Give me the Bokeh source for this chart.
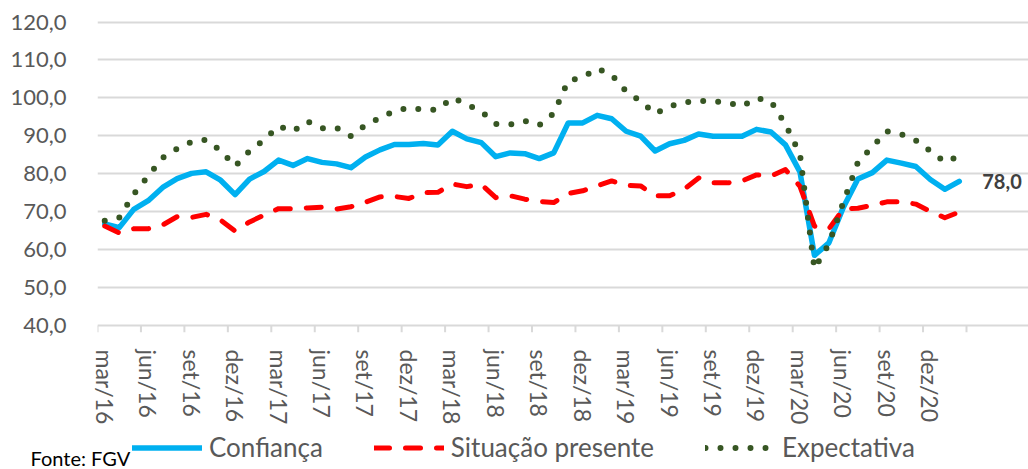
from bokeh.plotting import figure
from bokeh.layouts import column
from bokeh.models import Range1d, FixedTicker, Legend, LegendItem, Label
from bokeh.embed import file_html
from bokeh.resources import INLINE

# ---------------- data ----------------
tick_labels = ["mar/16", "jun/16", "set/16", "dez/16", "mar/17", "jun/17", "set/17", "dez/17",
               "mar/18", "jun/18", "set/18", "dez/18", "mar/19", "jun/19", "set/19", "dez/19",
               "mar/20", "jun/20", "set/20", "dez/20"]

confianca = [66.8, 65.8, 70.6, 72.9, 76.4, 78.7, 80.1, 80.5, 78.3, 74.5, 78.6, 80.6,
             83.6, 82.2, 84.0, 83.0, 82.6, 81.6, 84.4, 86.3, 87.7, 87.7, 88.0, 87.6,
             91.2, 89.2, 88.2, 84.5, 85.5, 85.3, 84.0, 85.5, 93.4, 93.4, 95.4, 94.5,
             91.2, 89.9, 86.0, 87.9, 88.8, 90.5, 89.9, 89.9, 89.9, 91.7, 91.0, 87.6,
             80.5, 58.5, 61.8, 71.2, 78.6, 80.3, 83.6, 82.8, 81.9, 78.5, 75.9, 78.0]

situacao = [66.2, 64.4, 65.5, 65.5, 66.5, 68.7, 68.5, 69.3, 67.8, 64.9, 67.3, 69.1,
            70.8, 70.8, 71.0, 71.2, 70.7, 71.3, 72.5, 73.9, 74.0, 73.5, 75.0, 75.1,
            77.3, 76.6, 77.2, 73.7, 74.2, 73.3, 72.7, 72.4, 74.8, 75.5, 76.8, 78.1,
            76.9, 76.8, 74.2, 74.2, 75.9, 78.9, 77.6, 77.6, 78.1, 79.7, 79.4, 81.1,
            76.7, 66.2, 65.5, 70.7, 70.9, 71.7, 72.6, 72.6, 72.0, 70.1, 68.4, 69.9]

expectativa = [67.6, 68.4, 74.6, 79.4, 84.2, 86.6, 88.4, 89.0, 86.1, 82.0, 86.0, 88.9,
               92.5, 91.2, 93.8, 92.0, 92.1, 89.9, 92.8, 94.7, 96.6, 97.3, 96.9, 96.9,
               100.0, 98.3, 96.4, 93.1, 93.0, 93.9, 92.8, 95.9, 104.5, 105.4, 107.7, 106.1,
               101.7, 99.1, 95.8, 97.8, 98.8, 99.2, 99.1, 98.7, 97.8, 99.9, 99.1, 93.0,
               85.2, 55.0, 61.5, 72.5, 83.0, 87.1, 91.2, 90.4, 88.8, 86.0, 83.1, 84.6]

series_names = ["Confiança", "Situação presente", "Expectativa"]
y_ticks = [40, 50, 60, 70, 80, 90, 100, 110, 120]
source_text = "Fonte: FGV"

# ---------------- styles ----------------
FONT = "Lato"
GREY_TXT = "#595959"
GRID = "#D9D9D9"
BLUE = "#00B0F0"
RED = "#FF0000"
GREEN = "#375623"
styles = [dict(line_color=BLUE, line_width=5.5, line_join="round", line_cap="round"),
          dict(line_color=RED, line_width=5, line_dash="15 16", line_join="round", line_cap="round"),
          dict(line_color=GREEN, line_width=6, line_dash="0 15", line_join="round", line_cap="round")]

n = len(confianca)
x = list(range(n))
y_lo = 38.155
y_hi = 120.66
px_per_cat = 869 / 60.0
frame_w = 931

p = figure(frame_width=frame_w, frame_height=313,
           min_border_left=97, min_border_right=0, min_border_top=19, min_border_bottom=93,
           x_range=Range1d(-0.5, -0.5 + frame_w / px_per_cat), y_range=Range1d(y_lo, y_hi),
           output_backend="svg", toolbar_location=None, tools="")
p.frame_align = False
p.outline_line_color = None
p.background_fill_color = "white"
p.border_fill_color = "white"

# grid (limited to the category area)
p.xgrid.grid_line_color = None
p.ygrid.ticker = FixedTicker(ticks=y_ticks)
p.ygrid.grid_line_color = GRID
p.ygrid.grid_line_width = 2
p.ygrid.bounds = (-0.5, n - 0.5)

# y axis
p.yaxis.ticker = FixedTicker(ticks=y_ticks)
p.yaxis.major_label_overrides = {t: f"{t:.1f}".replace(".", ",") for t in y_ticks}
p.yaxis.axis_line_color = None
p.yaxis.major_tick_line_color = None
p.yaxis.minor_tick_line_color = None
p.yaxis.major_label_standoff = 25
p.yaxis.major_label_text_font = FONT
p.yaxis.major_label_text_font_size = "22px"
p.yaxis.major_label_text_color = GREY_TXT

# x axis (labels at every third month)
label_pos = list(range(0, n, 3))
p.xaxis.ticker = FixedTicker(ticks=label_pos)
p.xaxis.major_label_overrides = {pos: lab for pos, lab in zip(label_pos, tick_labels)}
p.xaxis.axis_line_color = None
p.xaxis.major_tick_line_color = None
p.xaxis.minor_tick_line_color = None
p.xaxis.major_label_orientation = "vertical"
p.xaxis.major_label_standoff = 11
p.xaxis.major_label_text_font = FONT
p.xaxis.major_label_text_font_size = "23px"
p.xaxis.major_label_text_color = GREY_TXT

# tick marks between category groups
bounds = [b - 0.5 for b in range(0, n + 1, 3)]
p.segment(x0=bounds, y0=[y_ticks[0]] * len(bounds), x1=bounds, y1=[y_lo] * len(bounds),
          line_color=GRID, line_width=2)

# series
for vals, st in zip([confianca, situacao, expectativa], styles):
    p.line(x, vals, **st)

# value label for last point
p.add_layout(Label(x=x[-1], y=confianca[-1], x_offset=23, text=f"{confianca[-1]:.1f}".replace(".", ","),
                   text_font=FONT, text_font_size="20px", text_font_style="bold",
                   text_color="#404040", text_baseline="middle", text_align="left"))

# ---------------- legend / source strip ----------------
W2, H2 = 1028, 44
p2 = figure(width=W2, height=H2, min_border=0, x_range=Range1d(0, W2), y_range=Range1d(0, H2),
            x_axis_location=None, y_axis_location=None,
            output_backend="svg", toolbar_location=None, tools="")
p2.frame_align = False
p2.outline_line_color = None
p2.grid.visible = False
p2.background_fill_color = "white"
p2.border_fill_color = "white"

items = []
for name, st in zip(series_names, styles):
    # off-screen stand-in lines that only supply the legend sample style
    r = p2.line(x=[-20, -10], y=[-20, -20], **st)
    items.append(LegendItem(label=name, renderers=[r]))
legend = Legend(items=items, location=(132, 8), orientation="horizontal",
                glyph_width=70, glyph_height=29, label_height=29, label_standoff=7, spacing=51,
                padding=0, margin=0, border_line_color=None, background_fill_alpha=0,
                label_text_font=FONT, label_text_font_size="26px", label_text_color=GREY_TXT)
p2.add_layout(legend)

p2.add_layout(Label(x=30, y=14, text=source_text,
                    text_font=FONT, text_font_size="20px", text_color="black",
                    text_baseline="alphabetic", text_align="left"))

layout = column(p, p2, spacing=0)
open("out.html", "w").write(file_html(layout, INLINE))
